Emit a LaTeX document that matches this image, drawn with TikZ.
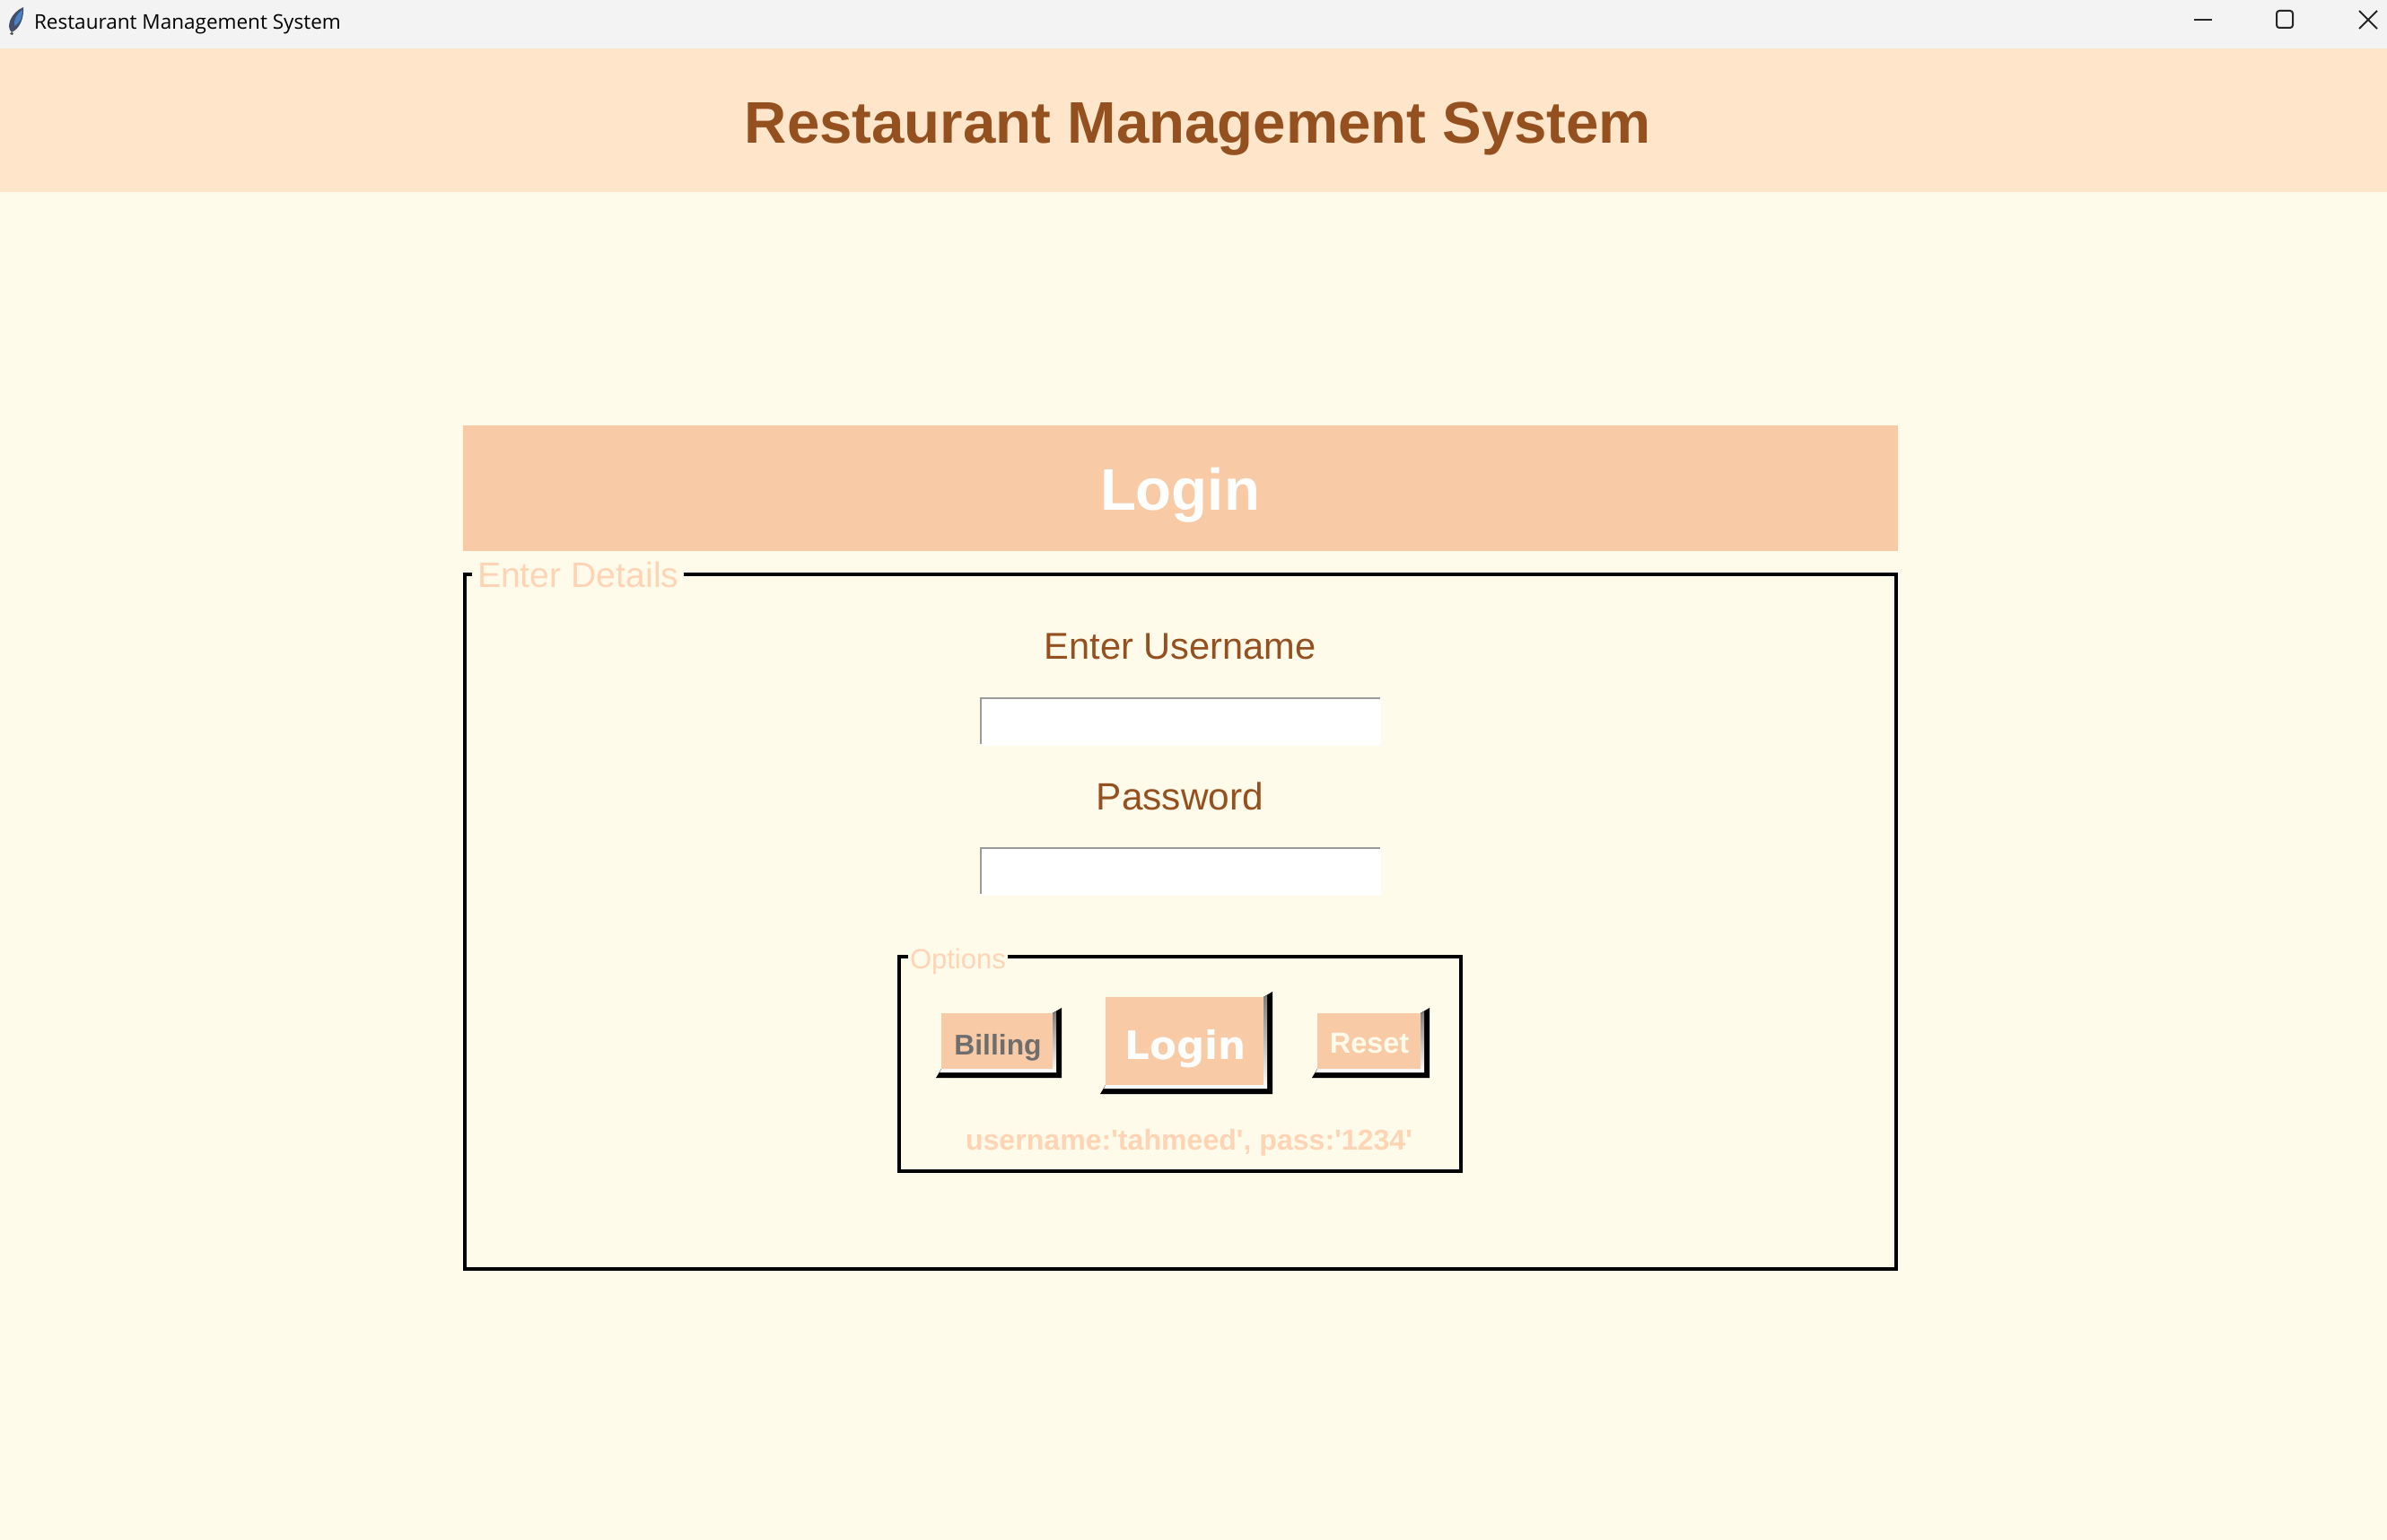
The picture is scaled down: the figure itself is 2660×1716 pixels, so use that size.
\documentclass[tikz,border=0pt]{standalone}
\usepackage{fontspec}
\setmainfont{Liberation Sans}
\newfontfamily\uifont{Open Sans}
\newfontfamily\dejafont{DejaVu Sans}
\newfontfamily\hintfont{Liberation Sans}
\definecolor{pagebg}{HTML}{FFFBEA}
\definecolor{barbg}{HTML}{F3F3F3}
\definecolor{headbg}{HTML}{FFE5CA}
\definecolor{peach}{HTML}{F8CBA6}
\definecolor{peachtxt}{HTML}{FFD4B4}
\definecolor{brownt}{HTML}{94501F}
\definecolor{shade}{HTML}{9A7A60}
\definecolor{entryline}{HTML}{9A9A9A}
\definecolor{quillA}{HTML}{44506A}
\definecolor{quillB}{HTML}{4A80C8}
\newcommand{\fsz}[1]{\fontsize{#1}{#1}\selectfont}
% bevel button: #1 face left, #2 face top, #3 face right, #4 face bottom
\newcommand{\bevelbtn}[4]{%
  \fill[black] (#3+10,#2-6) -- (#3+10,#4+10) -- (#1-6,#4+10) -- (#1,#4) -- (#3,#4) -- (#3,#2) -- cycle;
  \fill[shade] (#3+4,#2-2) -- (#3+4,#4+4) -- (#1-2,#4+4) -- (#1,#4) -- (#3,#4) -- (#3,#2) -- cycle;
  \fill[peach] (#1,#2) rectangle (#3,#4);
}
\tikzset{
  lbl/.style={inner sep=0pt, outer sep=0pt, anchor=base},
  lblw/.style={inner sep=0pt, outer sep=0pt, anchor=base west},
  framebox/.style={draw=black, line width=2.2pt},
  entrybox/.style={fill=white},
  entryedge/.style={draw=entryline, line width=1pt},
  winctl/.style={draw=black!85, line width=1pt},
}
\begin{document}
\begin{tikzpicture}[x=0.5pt,y=-0.5pt]
\useasboundingbox (0,0) rectangle (2660,1716);
\fill[pagebg] (0,0) rectangle (2660,1716);
% title bar
\fill[barbg] (0,0) rectangle (2660,54);
\fill[headbg] (0,54) rectangle (2660,214);
% icon
\fill[black!70] (11,38) -- (13,36) -- (15,37) -- (14,39) -- cycle;
\fill[quillA] (13,36) .. controls (6,30) and (12,14) .. (26,8) .. controls (27,20) and (22,32) .. (13,36) -- cycle;
\fill[quillB] (16,29) .. controls (15,22) and (19,15) .. (25,11) .. controls (25,20) and (22,26) .. (16,29) -- cycle;
\node[lblw] (wintitle) at (38,33) {\uifont\fsz{11.26}\color{black}Restaurant Management System};
\coordinate (minA) at (2445,22); \coordinate (minB) at (2465,22);
\draw[winctl] (minA) -- (minB);
\draw[winctl, rounded corners=1.5pt] (2537,12) rectangle (2555,31);
\coordinate (xA) at (2629,12); \coordinate (xB) at (2649,32);
\coordinate (xC) at (2649,12); \coordinate (xD) at (2629,32);
\draw[winctl] (xA) -- (xB) (xC) -- (xD);
% heading
\node[lbl] (apptitle) at (1335,160) {\fsz{32.7}\bfseries\color{brownt}Restaurant Management System};
% login band
\fill[peach] (516,474) rectangle (2115,614);
\node[lbl] (logintitle) at (1315,569) {\fsz{32.7}\bfseries\color{white}Login};
% enter details frame
\draw[framebox] (518,640) rectangle (2113,1414);
\node[lblw, fill=pagebg, inner xsep=3pt, inner ysep=1pt] (details) at (526,655) {\fsz{19.6}\color{peachtxt}Enter Details};
\node[lbl] (userlbl) at (1315,734) {\fsz{20.8}\color{brownt}Enter Username};
\fill[entrybox] (1092,777) rectangle (1539,831);
\draw[entryedge] (1093,829) -- (1093,778) -- (1538,778);
\node[lbl] (passlbl) at (1315,902) {\fsz{21.2}\color{brownt}Password};
\fill[entrybox] (1092,944) rectangle (1539,998);
\draw[entryedge] (1093,996) -- (1093,945) -- (1538,945);
% options frame
\draw[framebox] (1002,1066) rectangle (1628,1305);
\node[lblw, fill=pagebg, inner xsep=1pt, inner ysep=1pt] (options) at (1012,1079) {\fsz{15.5}\color{peachtxt}Options};
% buttons
\bevelbtn{1049}{1129}{1173}{1191}
\node[lbl] (billing) at (1112,1175) {\fsz{15.9}\bfseries\color[HTML]{6E6E6E}Billing};
\bevelbtn{1232}{1111}{1408}{1209}
\node[lbl] (loginbtn) at (1321,1180) {\dejafont\fsz{21.8}\bfseries\color{white}Login};
\bevelbtn{1468}{1129}{1583}{1191}
\node[lbl] (reset) at (1526,1173) {\fsz{16.2}\bfseries\color{pagebg}Reset};
\node[lbl] (hint) at (1325,1281) {\hintfont\fsz{16.05}\bfseries\color{peachtxt}username:'tahmeed', pass:'1234'};
\end{tikzpicture}
\end{document}
